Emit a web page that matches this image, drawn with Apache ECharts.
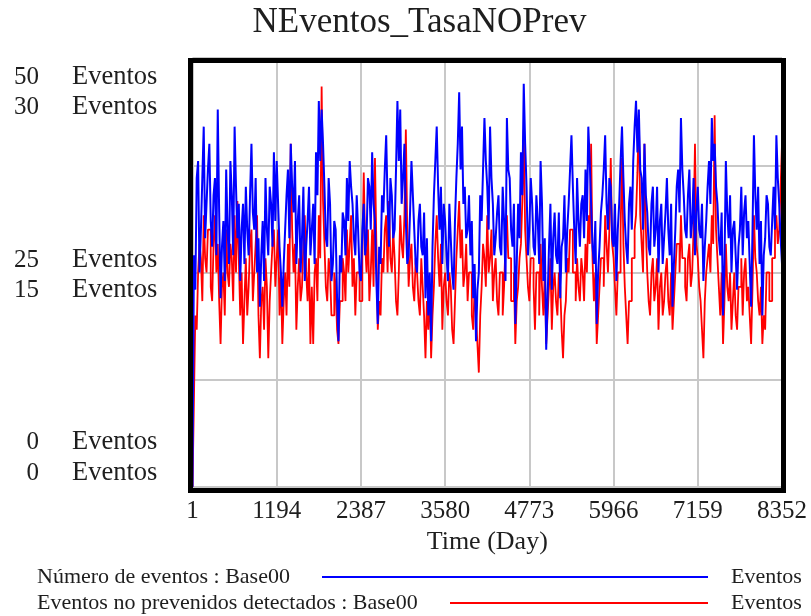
<!DOCTYPE html>
<html>
<head>
<meta charset="utf-8">
<script src="https://cdn.jsdelivr.net/npm/echarts@6/dist/echarts.min.js"></script>
<style>
html,body{margin:0;padding:0;background:#fff;}
#chart{width:811px;height:616px;}
</style>
</head>
<body>
<div id="chart"></div>
<script>
// ---- Data (sampled every 1193/60 days; index 0 = day 1, index 420 = day 8352) ----
const chartTitle = 'NEventos_TasaNOPrev';
const xAxisTitle = 'Time (Day)';
const xTickLabels = ['1','1194','2387','3580','4773','5966','7159','8352'];
const blueAxisLabels = ['50','25','0'];
const redAxisLabels = ['30','15','0'];
const unitLabel = 'Eventos';
const seriesNames = ['Número de eventos : Base00','Eventos no prevenidos detectados : Base00'];

const numeroEventos = [
 0,27,23,36,38,25,30,36,42,29,33,37,40,31,28,34,36,27,44,32,
 22,28,31,24,37,30,26,38,34,27,42,35,29,33,24,30,33,26,35,30,
 27,34,40,32,30,36,25,29,21,27,31,24,36,30,27,35,33,28,39,31,
 38,33,28,25,21,26,30,34,37,29,40,35,32,38,26,31,34,25,29,35,
 24,28,31,35,27,30,33,26,39,34,45,38,44,40,35,29,28,36,33,24,
 26,31,30,22,17,27,25,32,31,27,36,31,38,35,33,29,27,34,30,25,
 24,30,33,27,29,36,35,30,39,33,31,24,19,28,26,34,32,37,41,33,
 28,36,34,29,30,37,45,38,44,33,36,40,31,26,27,32,38,34,30,26,
 25,31,33,28,27,32,22,29,20,25,17,28,34,38,42,35,30,35,26,33,
 31,27,24,33,29,25,23,31,36,40,46,37,42,33,35,29,30,34,27,31,
 22,26,17,23,25,34,31,37,43,38,35,30,42,36,33,27,29,32,34,28,
 27,35,31,24,43,37,36,30,28,33,19,26,33,29,39,34,47,40,35,27,
 30,36,33,28,27,34,31,26,38,33,24,29,16,22,28,33,23,29,32,27,
 26,32,22,28,29,34,25,30,33,37,41,35,30,26,36,31,28,33,34,29,
 37,31,42,38,33,28,26,31,19,25,28,32,34,37,41,33,30,36,35,29,
 28,33,24,30,33,38,42,36,31,28,26,33,35,30,38,42,45,39,44,37,
 36,30,40,34,32,28,27,33,35,28,30,35,25,31,33,26,29,32,36,30,
 27,33,21,26,30,35,37,32,43,37,34,30,29,34,37,29,31,36,27,32,
 35,30,29,33,24,28,31,35,38,33,43,38,40,35,33,29,27,32,20,26,
 38,32,29,34,25,30,31,27,23,28,30,35,27,32,34,29,31,26,21,30,
 41,34,30,35,26,31,20,27,29,34,33,28,27,31,35,30,41,36,33,29,26
];
const eventosNoPrevenidos = [
 0,6,12,11,15,17,16,13,19,16,15,18,18,14,13,17,19,15,17,13,
 10,14,15,12,18,15,14,17,16,13,19,15,20,16,12,15,10,13,16,12,
 14,17,18,13,15,17,19,12,9,13,14,11,16,14,9,13,15,17,18,14,
 16,18,12,15,10,13,15,12,17,14,24,18,15,17,11,14,16,13,14,17,
 19,15,13,16,10,14,10,15,16,13,19,16,28,20,17,14,13,16,15,12,
 12,15,14,11,10,13,13,16,15,13,18,15,17,19,14,16,12,15,15,13,
 13,16,22,17,15,18,13,15,18,14,23,17,11,13,12,16,15,18,19,15,
 20,16,15,18,16,13,12,15,19,17,16,19,25,18,14,16,17,14,13,16,
 15,13,12,16,14,12,9,13,11,14,9,12,14,17,19,16,14,17,11,14,
 15,13,12,15,14,11,10,13,16,18,20,16,18,14,15,17,13,15,15,12,
 11,14,12,10,8,12,14,17,16,14,19,15,16,18,13,15,16,13,12,15,
 15,12,14,17,19,16,16,13,13,15,10,13,14,16,17,20,25,18,16,14,
 13,16,16,14,11,15,15,12,17,14,12,15,10,12,14,16,11,14,15,13,
 12,15,14,11,9,12,13,16,15,18,18,15,15,13,16,14,13,16,15,13,
 17,15,19,17,24,16,13,15,10,12,14,16,16,14,19,17,15,18,23,17,
 16,14,12,15,15,18,23,17,14,12,10,13,13,16,16,18,19,22,26,19,
 17,15,24,18,15,13,12,15,16,13,14,16,11,14,15,12,13,15,16,13,
 12,15,11,13,15,17,17,15,19,16,16,14,13,16,17,14,15,18,24,17,
 16,14,13,11,9,13,15,16,17,15,19,17,26,18,16,14,12,15,10,13,
 17,14,13,15,11,13,15,12,11,14,14,16,12,15,16,13,14,12,10,14,
 19,16,15,13,12,14,10,12,11,15,15,13,13,16,16,18,19,17,18,21,24
];

// ---- Chart ----
const FONT = '"Liberation Serif", "Times New Roman", serif';
const TXT = '#1e1e1e';
const blueColor = '#0000ff';
const redColor = '#ff0000';
const N = numeroEventos.length - 1;      // 420 sample steps
const TICK_STEP = N / (xTickLabels.length - 1); // 60

const chart = echarts.init(document.getElementById('chart'), null, {renderer:'canvas'});

const toPairs = arr => arr.map((v, i) => [i, v]);

// y labels (Vensim style stacked pairs)
const yLabelRows = [
  {num: blueAxisLabels[0], y: 77}, {num: redAxisLabels[0], y: 107},
  {num: blueAxisLabels[1], y: 260}, {num: redAxisLabels[1], y: 290},
  {num: blueAxisLabels[2], y: 442}, {num: redAxisLabels[2], y: 473}
];
const graphics = [];
yLabelRows.forEach(r => {
  graphics.push({type:'text', x:39, y:r.y, style:{text:r.num, font:'25px ' + FONT, fill:TXT, textAlign:'right', textVerticalAlign:'middle'}});
  graphics.push({type:'text', x:72, y:r.y, style:{text:unitLabel, font:'26.5px ' + FONT, fill:TXT, textAlign:'left', textVerticalAlign:'middle'}});
});
// title
graphics.push({type:'text', x:419.5, y:23, style:{text:chartTitle, font:'35px ' + FONT, fill:TXT, textAlign:'center', textVerticalAlign:'middle'}});
// frame
graphics.push({type:'rect', shape:{x:190.5, y:60.5, width:593, height:430}, style:{fill:null, stroke:'#000', lineWidth:5}, z:100});
// legend rows
const legendRows = [
  {name: seriesNames[0], color: blueColor, y: 577, x1: 322},
  {name: seriesNames[1], color: redColor, y: 603, x1: 450}
];
legendRows.forEach(r => {
  graphics.push({type:'text', x:37, y:r.y, style:{text:r.name, font:'22px ' + FONT, fill:TXT, textAlign:'left', textVerticalAlign:'middle'}});
  graphics.push({type:'line', shape:{x1:r.x1, y1:r.y, x2:708, y2:r.y}, style:{stroke:r.color, lineWidth:2}});
  graphics.push({type:'text', x:731, y:r.y, style:{text:unitLabel, font:'22px ' + FONT, fill:TXT, textAlign:'left', textVerticalAlign:'middle'}});
});

chart.setOption({
  animation: false,
  backgroundColor: '#fff',
  grid: {left: 192.5, right: 29, top: 58, bottom: 129},
  xAxis: {
    type: 'value', min: 0, max: N, interval: TICK_STEP,
    name: xAxisTitle, nameLocation: 'middle', nameGap: 41,
    nameTextStyle: {fontFamily: FONT, fontSize: 26, color: TXT},
    axisLine: {show: false}, axisTick: {show: false},
    axisLabel: {
      fontFamily: FONT, fontSize: 25, color: TXT, margin: 12,
      formatter: v => xTickLabels[Math.round(v / TICK_STEP)]
    },
    splitLine: {show: true, lineStyle: {color: '#c8c8c8', width: 2}}
  },
  yAxis: [
    {type: 'value', min: 0, max: 50, interval: 12.5, position: 'left',
     axisLine: {show: false}, axisTick: {show: false}, axisLabel: {show: false},
     splitLine: {show: true, lineStyle: {color: '#c8c8c8', width: 2}}},
    {type: 'value', min: 0, max: 30, interval: 7.5, position: 'left',
     axisLine: {show: false}, axisTick: {show: false}, axisLabel: {show: false},
     splitLine: {show: false}}
  ],
  series: [
    {name: seriesNames[1], type: 'line', yAxisIndex: 1, data: toPairs(eventosNoPrevenidos),
     step: 'end', showSymbol: false, lineStyle: {color: redColor, width: 1.8}, itemStyle:{color:redColor}, z: 2},
    {name: seriesNames[0], type: 'line', yAxisIndex: 0, data: toPairs(numeroEventos),
     step: 'end', showSymbol: false, lineStyle: {color: blueColor, width: 2}, itemStyle:{color:blueColor}, z: 3}
  ],
  graphic: graphics
});
</script>
</body>
</html>
